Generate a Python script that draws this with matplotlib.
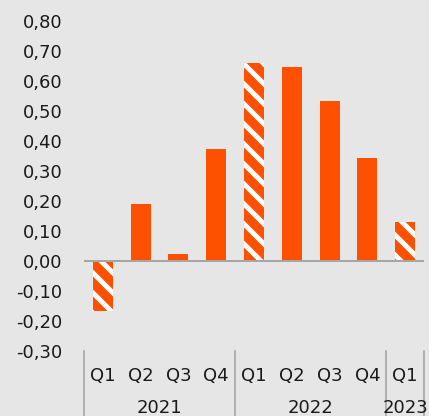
import numpy as np
import matplotlib
matplotlib.use("Agg")
import matplotlib.pyplot as plt
from matplotlib.lines import Line2D

# dados
trimestres = ['Q1', 'Q2', 'Q3', 'Q4', 'Q1', 'Q2', 'Q3', 'Q4', 'Q1']
anos = ['2021', '2022', '2023']
anos_n = [4, 4, 1]            # trimestres por ano
valores = [-0.165, 0.19, 0.023, 0.373, 0.659, 0.648, 0.533, 0.345, 0.13]
hachurado = [True, False, False, False, True, False, False, False, True]

fundo = '#e6e6e6'
laranja = '#ff5000'
cinza = '#a6a6a6'

DPI = 120  # 120 dpi -> hachura com periodo de ~20px
plt.rcParams['hatch.linewidth'] = 3.0
plt.rcParams['font.family'] = 'DejaVu Sans'
fs = 10.8

fig = plt.figure(figsize=(429/DPI, 416/DPI), dpi=DPI, facecolor=fundo)
ax = fig.add_axes([84/429, 1-351/416, 340/429, 330/416])
ax.set_facecolor(fundo)

x = np.arange(len(valores))
for i in x:
    if hachurado[i]:
        ax.bar(i, valores[i], 0.53, color=laranja, edgecolor='white', hatch='\\\\', linewidth=0, zorder=2)
    else:
        ax.bar(i, valores[i], 0.53, color=laranja, linewidth=0, zorder=2)

ax.axhline(0, color=cinza, lw=1.2, zorder=3)
ax.set_xlim(-0.5, len(valores) - 0.5)
ax.set_ylim(-0.30, 0.80)
ax.set_yticks(np.arange(-0.3, 0.81, 0.1))
ax.set_yticklabels([('%.2f' % v).replace('.', ',') for v in np.arange(-0.3, 0.81, 0.1)], fontsize=fs, color='#1a1a1a')
ax.tick_params(axis='y', length=0, pad=13)
ax.set_xticks([])
for s in ax.spines.values():
    s.set_visible(False)

# rotulos do eixo x em dois niveis
trans = ax.get_xaxis_transform()
for i, q in enumerate(trimestres):
    ax.text(i, -0.075, q, transform=trans, ha='center', va='center', fontsize=fs, color='#1a1a1a')

inicio = 0
fronteiras = [-0.5]
for ano, n in zip(anos, anos_n):
    centro = inicio + (n - 1) / 2
    ax.text(centro, -0.172, ano, transform=trans, ha='center', va='center', fontsize=fs,
            color='#1a1a1a', clip_on=False)
    inicio += n
    fronteiras.append(inicio - 0.5)

for f in fronteiras:
    ax.add_line(Line2D([f, f], [0, -0.22], transform=trans, color=cinza, lw=1.0, clip_on=False))

fig.savefig('out.png', dpi=DPI, facecolor=fundo)
